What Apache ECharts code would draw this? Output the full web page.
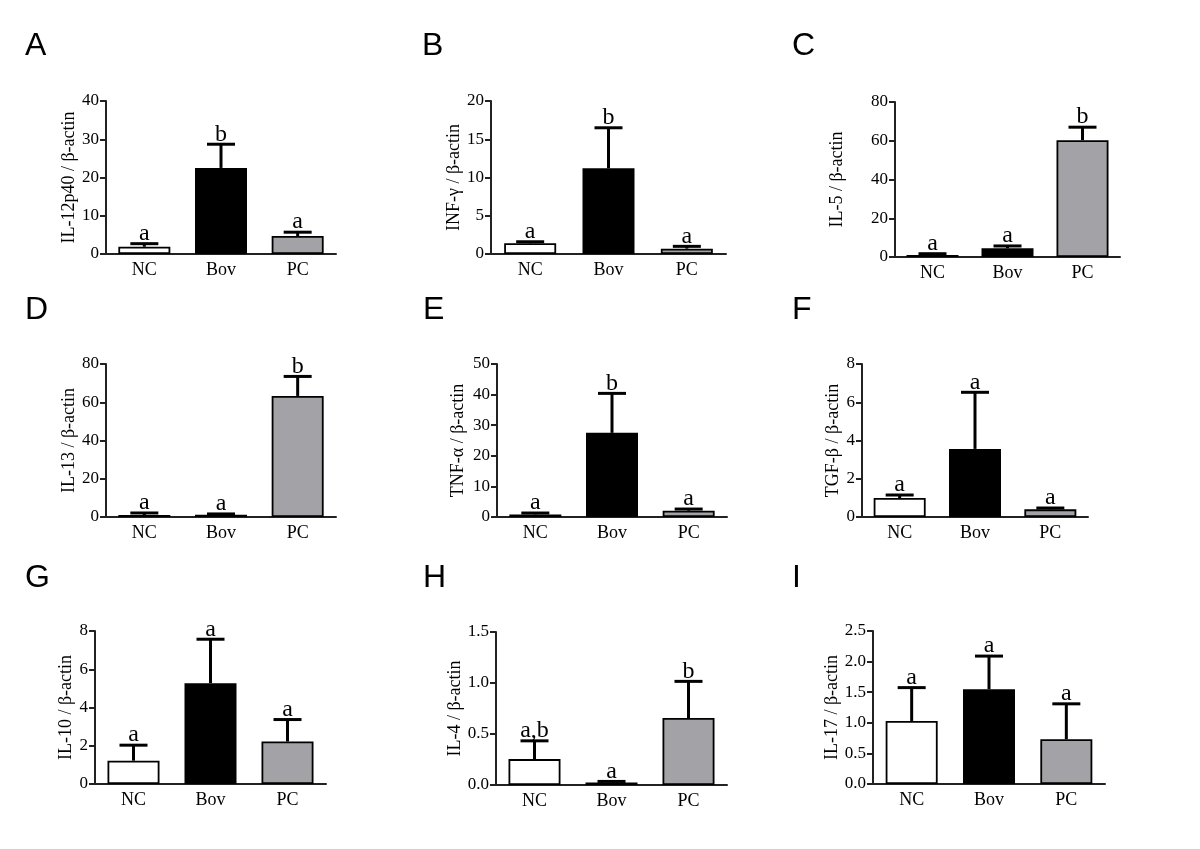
<!DOCTYPE html>
<html>
<head>
<meta charset="utf-8">
<script src="https://cdn.jsdelivr.net/npm/echarts@6/dist/echarts.min.js"></script>
<style>
html,body{margin:0;padding:0;background:#fff;}
#chart{width:1200px;height:849px;}
</style>
</head>
<body>
<div id="chart"></div>
<script>
// ---- data ----
const panelLetters = ['A','B','C','D','E','F','G','H','I'];
const categories = ['NC','Bov','PC'];
const yTitles = ['IL-12p40 / β-actin','INF-γ / β-actin','IL-5 / β-actin','IL-13 / β-actin','TNF-α / β-actin','TGF-β / β-actin','IL-10 / β-actin','IL-4 / β-actin','IL-17 / β-actin'];
const meanA = [1.9, 22.5, 4.7];
const meanB = [1.4, 11.2, 0.7];
const meanC = [1.0, 4.5, 60.3];
const meanD = [1.05, 1.2, 63.3];
const meanE = [0.85, 27.5, 2.05];
const meanF = [0.99, 3.56, 0.4];
const meanG = [1.22, 5.27, 2.22];
const meanH = [0.254, 0.025, 0.657];
const meanI = [1.03, 1.55, 0.73];
const errTopA = [2.7, 28.7, 5.7];
const errTopB = [1.6, 16.5, 1.0];
const errTopC = [1.7, 5.7, 67.0];
const errTopD = [2.1, 1.6, 73.5];
const errTopE = [1.3, 40.4, 2.6];
const errTopF = [1.15, 6.52, 0.47];
const errTopG = [2.03, 7.57, 3.37];
const errTopH = [0.433, 0.035, 1.016];
const errTopI = [1.575, 2.09, 1.31];
const sigA = ['a','b','a'];
const sigB = ['a','b','a'];
const sigC = ['a','a','b'];
const sigD = ['a','a','b'];
const sigE = ['a','b','a'];
const sigF = ['a','a','a'];
const sigG = ['a','a','a'];
const sigH = ['a,b','a','b'];
const sigI = ['a','a','a'];
const yMax = [40, 20, 80, 80, 50, 8, 8, 1.5, 2.5];
const yInterval = [10, 5, 20, 20, 10, 2, 2, 0.5, 0.5];
const yDecimals = [0, 0, 0, 0, 0, 0, 0, 1, 1];

const means = [meanA, meanB, meanC, meanD, meanE, meanF, meanG, meanH, meanI];
const errTops = [errTopA, errTopB, errTopC, errTopD, errTopE, errTopF, errTopG, errTopH, errTopI];
const sigs = [sigA, sigB, sigC, sigD, sigE, sigF, sigG, sigH, sigI];

// ---- layout ----
const gridBoxes = [
  [106, 101, 230, 153], [491, 101, 235, 153], [895, 102, 225, 155],
  [106, 364, 230, 153], [497, 364, 230, 153], [862, 364, 226, 153],
  [95, 631, 231, 153], [496, 632, 231, 153], [873, 631, 232, 153]
];
const nameGaps = [27, 25, 49, 28, 30, 20, 19, 32, 31];
const letterPos = [[25,30],[422,30],[792,30],[25,294],[423,294],[792,294],[25,562],[423,562],[792,562]];
const barColors = ['#ffffff', '#000000', '#a3a3a7'];
const serif = '"Liberation Serif", "Times New Roman", serif';

const grids = [], xAxes = [], yAxes = [], series = [], graphics = [];
for (let i = 0; i < 9; i++) {
  const b = gridBoxes[i];
  grids.push({left: b[0], top: b[1], width: b[2], height: b[3], containLabel: false});
  xAxes.push({
    type: 'category', gridIndex: i, data: categories,
    axisLine: {show: true, lineStyle: {color: '#222', width: 2}},
    axisTick: {show: false},
    axisLabel: {color: '#000', fontFamily: serif, fontSize: 18, margin: 7}
  });
  const dec = yDecimals[i];
  yAxes.push({
    type: 'value', gridIndex: i, min: 0, max: yMax[i], interval: yInterval[i],
    name: yTitles[i], nameLocation: 'middle', nameGap: nameGaps[i], nameRotate: 90,
    nameTextStyle: {color: '#000', fontFamily: serif, fontSize: 18},
    axisLine: {show: true, lineStyle: {color: '#222', width: 2}},
    axisTick: {show: true, inside: false, length: 6, lineStyle: {color: '#222', width: 2}},
    splitLine: {show: false},
    axisLabel: {color: '#000', fontFamily: serif, fontSize: 17, margin: 7,
      formatter: v => Number(v).toFixed(dec)}
  });
  series.push({
    type: 'bar', xAxisIndex: i, yAxisIndex: i, barWidth: 52, animation: false,
    data: means[i].map((v, k) => ({value: v, itemStyle: {color: barColors[k], borderColor: '#000', borderWidth: 1.8}})),
    z: 2
  });
  const sig = sigs[i];
  series.push({
    type: 'custom', xAxisIndex: i, yAxisIndex: i, animation: false, z: 3,
    data: means[i].map((v, k) => [k, v, errTops[i][k]]),
    encode: {x: 0, y: [1, 2]},
    renderItem: function (params, api) {
      const x = api.value(0), m = api.value(1), t = api.value(2);
      const p0 = api.coord([x, m]);
      const p1 = api.coord([x, t]);
      const cap = 14;
      return {
        type: 'group',
        children: [
          {type: 'line', shape: {x1: p0[0], y1: p0[1], x2: p1[0], y2: p1[1]}, style: {stroke: '#000', lineWidth: 3}},
          {type: 'line', shape: {x1: p1[0] - cap, y1: p1[1], x2: p1[0] + cap, y2: p1[1]}, style: {stroke: '#000', lineWidth: 3}},
          {type: 'text', x: p1[0], y: p1[1] + 2, style: {text: sig[params.dataIndex], fill: '#000', font: '24px ' + serif, align: 'center', verticalAlign: 'bottom'}}
        ]
      };
    }
  });
  graphics.push({
    type: 'text', left: letterPos[i][0], top: letterPos[i][1],
    style: {text: panelLetters[i], fill: '#000', font: '32px "Liberation Sans", Arial, sans-serif'}
  });
}

const chart = echarts.init(document.getElementById('chart'), null, {renderer: 'canvas'});
chart.setOption({
  backgroundColor: '#fff',
  animation: false,
  grid: grids, xAxis: xAxes, yAxis: yAxes, series: series, graphic: graphics
});
</script>
</body>
</html>
